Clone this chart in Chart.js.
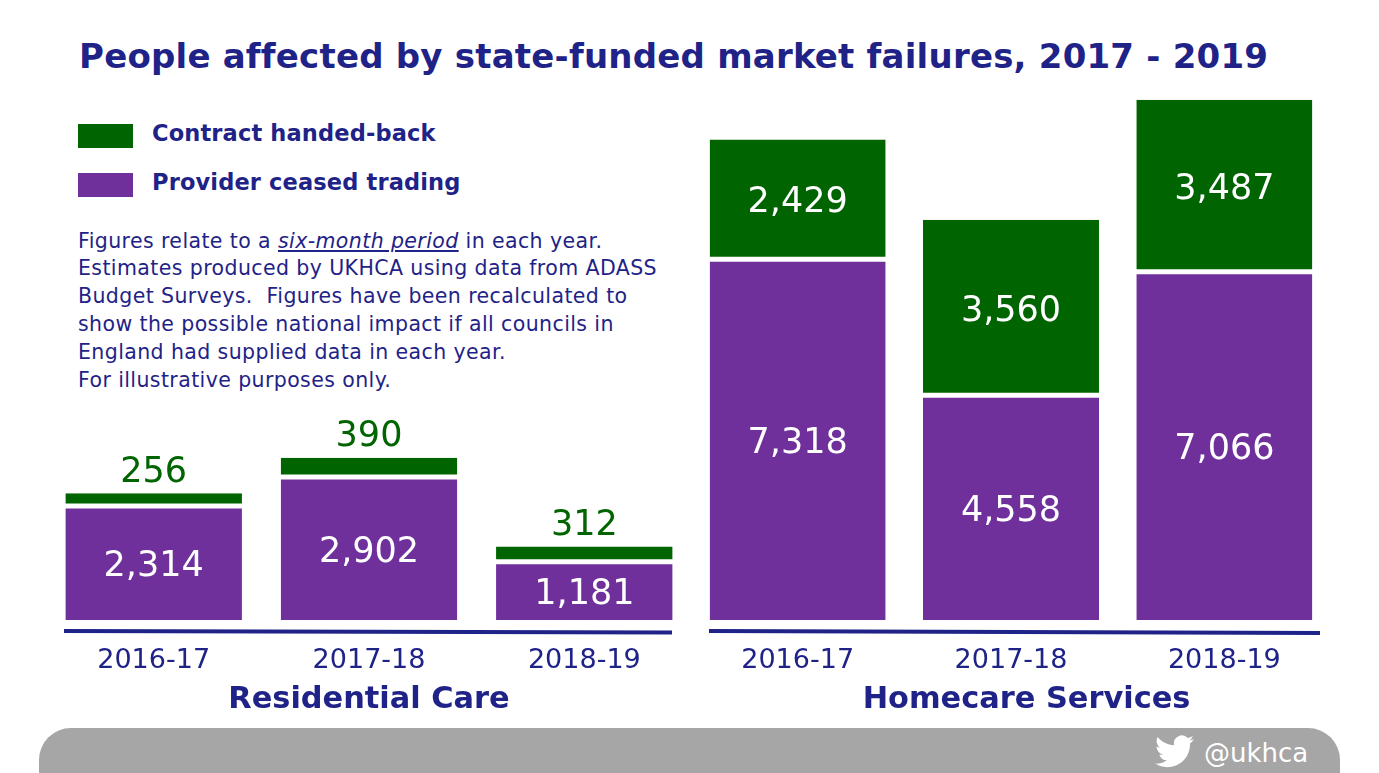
<!DOCTYPE html>
<html><head><meta charset="utf-8">
<script src="https://cdn.jsdelivr.net/npm/chart.js@4"></script>
<style>
html,body{margin:0;padding:0;background:#fff;width:1379px;height:773px;overflow:hidden;font-family:"DejaVu Sans",sans-serif;color:#1f2387}
div.t{position:absolute;white-space:nowrap;font-variant-ligatures:none}
canvas{position:absolute}
.sw{position:absolute;left:78px;width:55px;height:24px}
</style></head><body>
<div class="t" style="left:79px;top:34px;font-size:34px;letter-spacing:0.21px;font-weight:bold;line-height:44px">People affected by state-funded market failures, 2017 - 2019</div>
<div class="sw" style="top:124px;background:#006400"></div>
<div class="sw" style="top:173px;background:#70309c"></div>
<div class="t" style="left:152px;top:118px;font-size:22.5px;letter-spacing:0.15px;font-weight:bold;line-height:30px">Contract handed-back</div>
<div class="t" style="left:152px;top:167px;font-size:22.5px;letter-spacing:0.15px;font-weight:bold;line-height:30px">Provider ceased trading</div>
<div class="t" style="left:78px;top:227.5px;font-size:20.5px;letter-spacing:0.4px;line-height:27.9px">Figures relate to a <i style="text-decoration:underline">six-month period</i> in each year.<br>Estimates produced by UKHCA using data from ADASS<br>Budget Surveys.&nbsp; Figures have been recalculated to<br>show the possible national impact if all councils in<br>England had supplied data in each year.<br>For illustrative purposes only.</div>
<div style="position:absolute;left:39px;top:728px;width:1301px;height:80px;background:#a6a6a6;border-radius:32px 32px 0 0"></div>
<svg style="position:absolute;left:1155px;top:735px" width="39" height="35" viewBox="0 0 24 21.5"><path fill="#fff" transform="translate(0,-2)" d="M23.953 4.57a10 10 0 01-2.825.775 4.958 4.958 0 002.163-2.723c-.951.555-2.005.959-3.127 1.184a4.92 4.92 0 00-8.384 4.482C7.69 8.095 4.067 6.13 1.64 3.162a4.822 4.822 0 00-.666 2.475c0 1.71.87 3.213 2.188 4.096a4.904 4.904 0 01-2.228-.616v.06a4.923 4.923 0 003.946 4.827 4.996 4.996 0 01-2.212.085 4.936 4.936 0 004.604 3.417 9.867 9.867 0 01-6.102 2.105c-.39 0-.779-.023-1.17-.067a13.995 13.995 0 007.557 2.209c9.053 0 13.998-7.496 13.998-13.985 0-.21 0-.42-.015-.63A9.935 9.935 0 0024 4.59z"/></svg>
<div class="t" style="left:1204px;top:735px;font-size:26px;line-height:36px;color:#fff">@ukhca</div>
<canvas id="left" style="left:46px;top:420px;width:646px;height:300px"></canvas>
<canvas id="right" style="left:691px;top:90px;width:640px;height:630px"></canvas>
<script>
const years = ["2016-17", "2017-18", "2018-19"];
const residentialCeased = [2314, 2902, 1181];
const residentialHanded = [256, 390, 312];
const homecareCeased = [7318, 4558, 7066];
const homecareHanded = [2429, 3560, 3487];
const legendNames = ["Contract handed-back", "Provider ceased trading"];

const NAVY = "#1f2387", GREEN = "#006400", PURPLE = "#70309c";
const FONT = '"DejaVu Sans", sans-serif';

const labelsPlugin = {
  id: "barText",
  afterDatasetsDraw(chart, args, opts) {
    const c = chart.ctx;
    c.save();
    c.textAlign = "center"; c.textBaseline = "middle";
    c.font = "35px " + FONT;
    chart.data.datasets.forEach((ds, i) => {
      chart.getDatasetMeta(i).data.forEach((bar, j) => {
        const txt = ds.data[j].toLocaleString("en-GB");
        const h = Math.abs(bar.base - bar.y);
        if (h < 30) { c.fillStyle = GREEN; c.fillText(txt, bar.x, bar.y - 20.5); }
        else { c.fillStyle = "#fff"; c.fillText(txt, bar.x, (bar.y + bar.base) / 2 + 4); }
      });
    });
    c.strokeStyle = NAVY; c.lineWidth = 4;
    const a = chart.chartArea;
    c.beginPath();
    c.moveTo(a.left + opts.x0, a.bottom + opts.y0);
    c.lineTo(a.left + opts.x1, a.bottom + opts.y1);
    c.stroke();
    c.fillStyle = NAVY;
    c.font = "bold 30.4px " + FONT;
    c.fillText(opts.title, a.left + opts.tx, a.bottom + 80);
    c.restore();
  }
};

function make(id, title, ceased, handed, maxY, barPct, line) {
  new Chart(document.getElementById(id), {
    type: "bar",
    data: {
      labels: years,
      datasets: [
        { label: legendNames[1], data: ceased, backgroundColor: PURPLE, borderColor: "#fff",
          borderWidth: { top: 2.5, left: 0, right: 0, bottom: 0 }, borderSkipped: false },
        { label: legendNames[0], data: handed, backgroundColor: GREEN, borderColor: "#fff",
          borderWidth: { bottom: 2.5, left: 0, right: 0, top: 0 }, borderSkipped: false }
      ]
    },
    options: {
      responsive: false, animation: false, devicePixelRatio: 1,
      layout: { padding: 0 },
      barPercentage: barPct, categoryPercentage: 1,
      plugins: { legend: { display: false }, tooltip: { enabled: false }, barText: Object.assign({ title }, line) },
      scales: {
        x: {
          stacked: true,
          grid: { display: false, drawTicks: false }, border: { display: false },
          ticks: { color: NAVY, font: { size: 27, family: FONT }, padding: 25, maxRotation: 0 },
          afterFit(s) { s.height = 100; }
        },
        y: { stacked: true, display: false, min: 0, max: maxY }
      }
    },
    plugins: [labelsPlugin]
  });
}
for (const [id,w,h] of [["left",646,300],["right",640,630]]) { const e=document.getElementById(id); e.width=w; e.height=h; }
make("left", "Residential Care", residentialCeased, residentialHanded, 4057, 0.82, { x0: 18, x1: 626, y0: 11, y1: 12.5, tx: 323 });
make("right", "Homecare Services", homecareCeased, homecareHanded, 10751, 0.825, { x0: 18, x1: 629, y0: 11, y1: 13, tx: 335.5 });
</script>
</body></html>
